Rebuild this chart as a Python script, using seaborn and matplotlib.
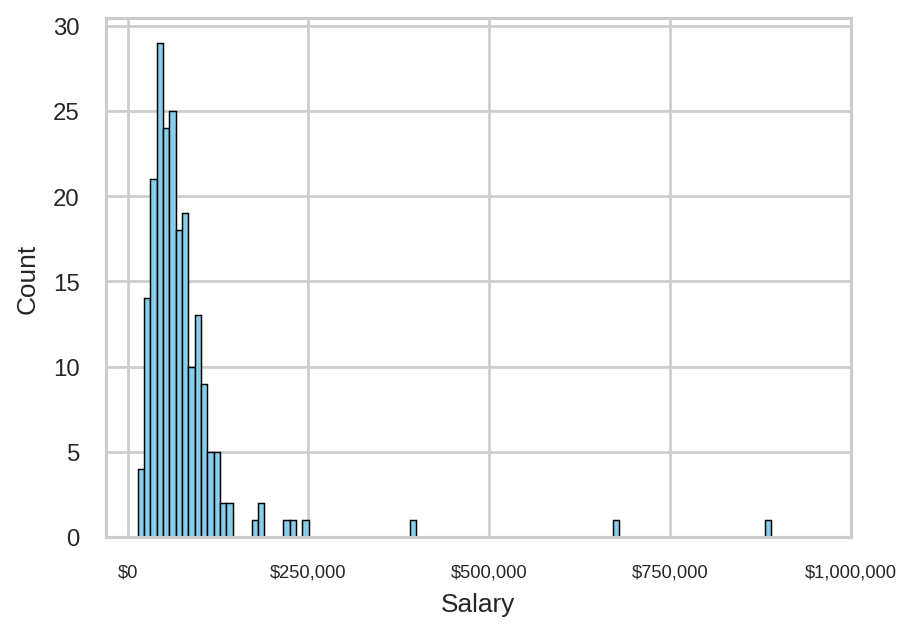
import numpy as np
import pandas as pd
import matplotlib
matplotlib.use("Agg")
import matplotlib.pyplot as plt
import seaborn as sns
from matplotlib.ticker import FuncFormatter

# Histogram data (bin midpoint salary, count)
salary = [18200, 27000, 35700, 44500, 53300, 62000, 70800, 79500, 88300, 97000,
          105800, 114600, 123300, 132100, 140800, 175900, 184600, 219700, 228400,
          245900, 394800, 675100, 885300]
count = [4, 14, 21, 29, 24, 25, 18, 19, 10, 13,
         9, 5, 5, 2, 2, 1, 2, 1, 1,
         1, 1, 1, 1]
salary_min = 13850
salary_max = 889650
n_bins = 100
x_ticks = [0, 250000, 500000, 750000, 1000000]

df = pd.DataFrame({"Salary": salary, "Count": count})

sns.set_theme(style="whitegrid", context="notebook",
              rc={"grid.linewidth": 1.3, "axes.linewidth": 1.5})
plt.rcParams["font.family"] = ["Liberation Sans", "DejaVu Sans"]

fig, ax = plt.subplots(figsize=(6.1, 4.2333), dpi=150)
fig.subplots_adjust(left=0.1158, right=0.930, top=0.970, bottom=0.1528)

sns.histplot(data=df, x="Salary", weights="Count", bins=n_bins,
             binrange=(salary_min, salary_max), color="skyblue",
             edgecolor="black", linewidth=0.7, alpha=1, ax=ax)

ax.set_xticks(x_ticks)
ax.xaxis.set_major_formatter(FuncFormatter(lambda v, p: f"${v:,.0f}"))
ax.tick_params(axis="x", labelsize=8.8, pad=6.8)
ax.tick_params(axis="y", labelsize=11.5, pad=6.5)
ax.set_xlabel("Salary", fontsize=12.6, labelpad=5.5)
ax.set_ylabel("Count", fontsize=12.6, labelpad=6.5)

fig.savefig("out.png", dpi=150)
